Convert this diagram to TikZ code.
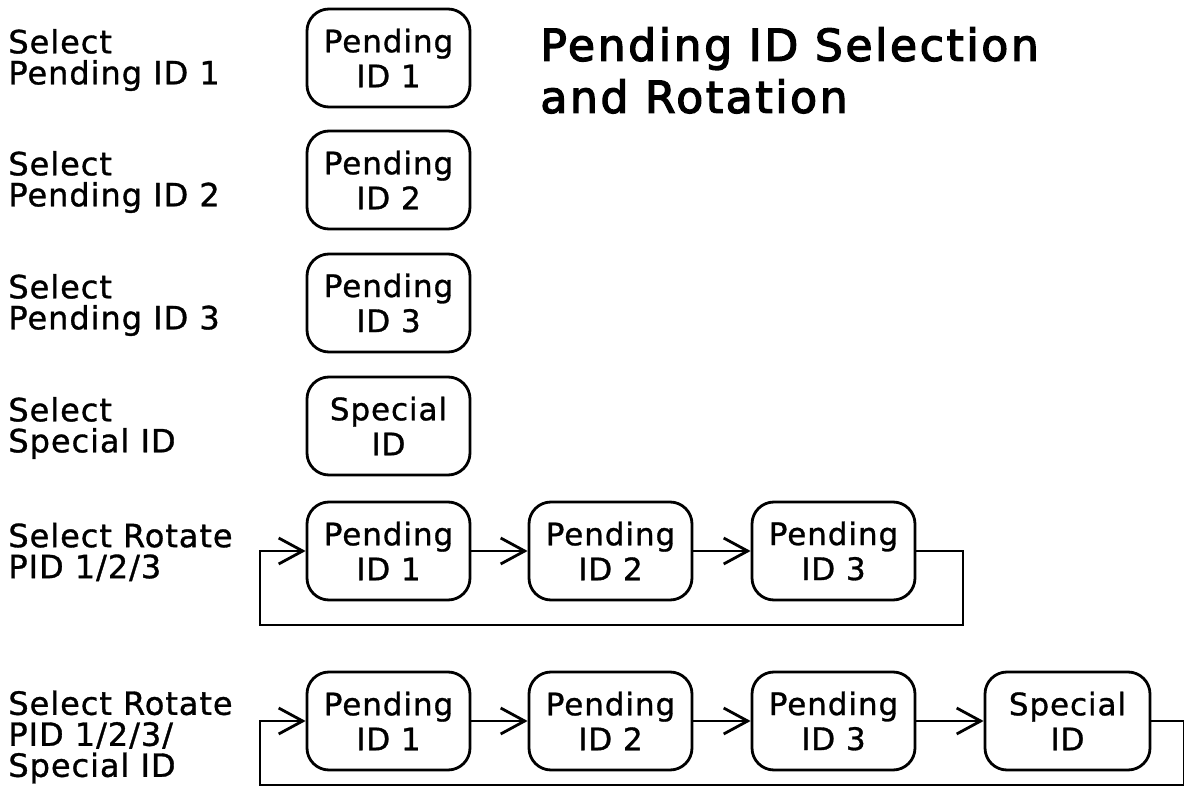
\documentclass[tikz,border=0pt]{standalone}
\usepackage{fontspec}
\setmainfont{DejaVu Sans}[LetterSpace=3,FakeBold=1]
\newfontfamily\titlefont{DejaVu Sans}[LetterSpace=6,FakeBold=3]
\usetikzlibrary{arrows.meta}
\begin{document}
\begin{tikzpicture}[x=0.5pt,y=-0.5pt,
  box/.style={draw, line width=1.4pt, rounded corners=11pt, minimum width=81.5pt, minimum height=49pt, align=center, font=\fontsize{15.5}{17.5}\selectfont, inner sep=0pt},
  lab/.style={anchor=west, align=left, font=\fontsize{16}{15.5}\selectfont, inner sep=0pt},
  conn/.style={line width=1.4pt, -{Straight Barb[length=12pt,width=13pt,line width=1.4pt]}},
  ttl/.style={anchor=north west, align=left, font=\fontsize{22}{26}\titlefont, inner sep=0pt}]
\useasboundingbox (0,0) rectangle (1184,791);
% title
\node[ttl] (title) at (540,27) {Pending ID Selection\\and Rotation};
% left labels
\node[lab] (l1) at (8,60) {Select\\Pending ID 1};
\node[lab] (l2) at (8,182) {Select\\Pending ID 2};
\node[lab] (l3) at (8,305) {Select\\Pending ID 3};
\node[lab] (l4) at (8,428) {Select\\Special ID};
\node[lab] (l5) at (8,552) {Select Rotate\\PID 1/2/3};
\node[lab] (l6) at (8,737) {Select Rotate\\PID 1/2/3/\\Special ID};
% single boxes
\node[box] (a1) at (388.5,58) {Pending\\ID 1};
\node[box] (a2) at (388.5,180) {Pending\\ID 2};
\node[box] (a3) at (388.5,303) {Pending\\ID 3};
\node[box] (a4) at (388.5,426) {Special\\ID};
% rotate 1/2/3
\node[box] (r1) at (388.5,551) {Pending\\ID 1};
\node[box] (r2) at (610.5,551) {Pending\\ID 2};
\node[box] (r3) at (833.5,551) {Pending\\ID 3};
\coordinate (c5r) at (963,625);
\coordinate (c5l) at (260,625);
\draw[conn] (r1) -- (r2);
\draw[conn] (r2) -- (r3);
\draw[conn] (r3.east) -| (c5r) -- (c5l) |- (r1.west);
% rotate 1/2/3/special
\node[box] (s1) at (388.5,721) {Pending\\ID 1};
\node[box] (s2) at (610.5,721) {Pending\\ID 2};
\node[box] (s3) at (833.5,721) {Pending\\ID 3};
\node[box, minimum width=82.5pt] (s4) at (1067.5,721) {Special\\ID};
\coordinate (c6r) at (1184,785);
\coordinate (c6l) at (260,785);
\draw[conn] (s1) -- (s2);
\draw[conn] (s2) -- (s3);
\draw[conn] (s3) -- (s4);
\draw[conn] (s4.east) -| (c6r) -- (c6l) |- (s1.west);
\end{tikzpicture}
\end{document}
